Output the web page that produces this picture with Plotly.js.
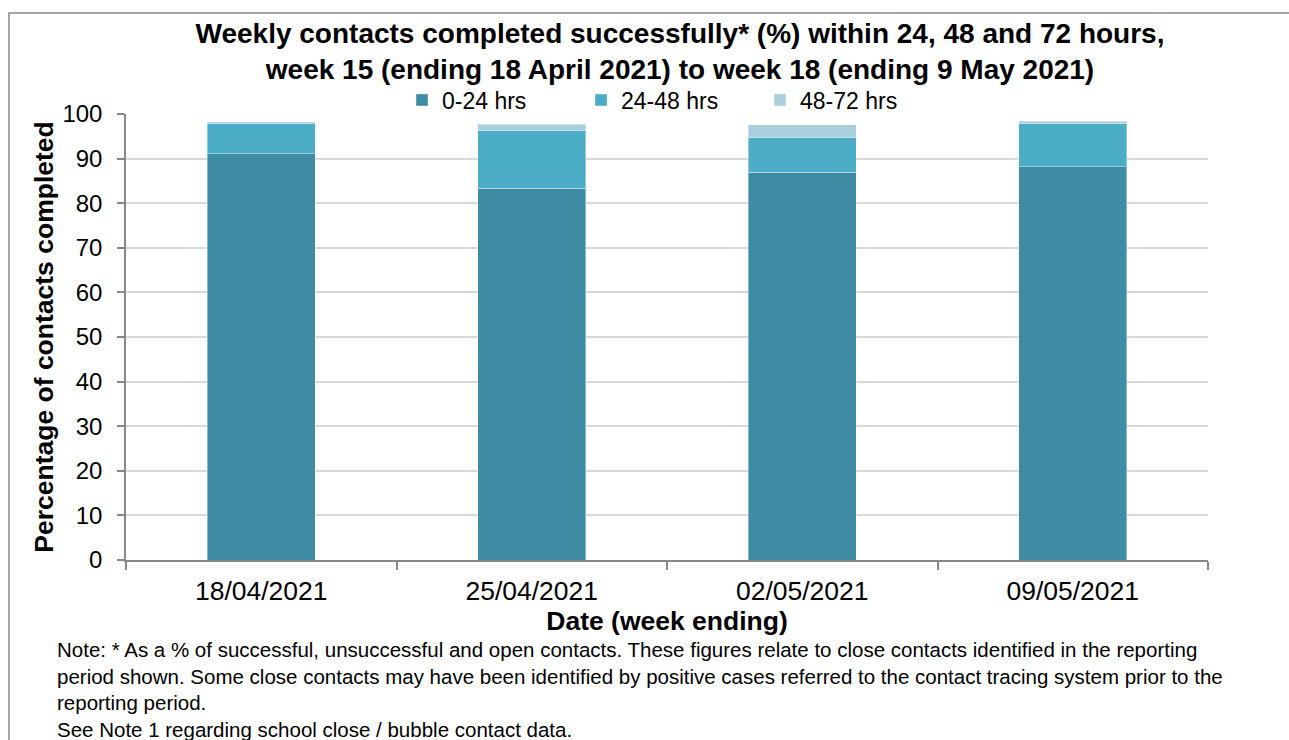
<!DOCTYPE html>
<html>
<head>
<meta charset="utf-8">
<script src="https://cdn.plot.ly/plotly-3.0.1.min.js"></script>
<style>html,body{margin:0;padding:0;background:#fff;}#chart{width:1289px;height:740px;}</style>
</head>
<body>
<div id="chart"></div>
<script>
const weeks = ["18/04/2021", "25/04/2021", "02/05/2021", "09/05/2021"];
const hrs0to24 = [91.1, 83.4, 86.9, 88.2];
const hrs24to48 = [6.7, 13.0, 7.9, 9.6];
const hrs48to72 = [0.5, 1.3, 2.8, 0.6];
const seriesNames = ["0-24 hrs", "24-48 hrs", "48-72 hrs"];
const yTicks = [0, 10, 20, 30, 40, 50, 60, 70, 80, 90, 100];

const colors = ["#3D8CA3", "#4BACC6", "#A9CEDC"];
const font = "Liberation Sans, Arial, sans-serif";

const data = [hrs0to24, hrs24to48, hrs48to72].map((vals, i) => ({
  type: "bar",
  x: weeks,
  y: vals,
  name: seriesNames[i],
  marker: { color: colors[i], line: { color: "rgba(255,255,255,0.4)", width: 1 } },
  hoverinfo: "x+y+name"
}));

const L = 126, R = 1208, T = 114, B = 560, W = 1289, H = 740;
const pw = R - L, ph = B - T;
const px = v => (v - L) / pw;
const py = v => (B - v) / ph;

const layout = {
  width: W, height: H,
  margin: { l: L, r: W - R, t: T, b: H - B, pad: 0 },
  paper_bgcolor: "#ffffff",
  plot_bgcolor: "#ffffff",
  font: { family: font, color: "#000000", size: 24 },
  barmode: "stack",
  bargap: 0.6,
  showlegend: true,
  title: {
    text: "<b>Weekly contacts completed successfully* (%) within 24, 48 and 72 hours,<br>week 15 (ending 18 April 2021) to week 18 (ending 9 May 2021)</b>",
    font: { family: font, size: 28, color: "#000000" },
    x: px(680), xref: "paper", xanchor: "center",
    y: 1 - 43 / H, yref: "container", yanchor: "middle"
  },
  legend: {
    orientation: "h",
    x: px(402), xanchor: "left",
    y: py(100), yanchor: "middle",
    font: { family: font, size: 23, color: "#000000" },
    itemwidth: 30,
    entrywidth: 134,
    entrywidthmode: "pixels",
    traceorder: "normal",
    bgcolor: "rgba(0,0,0,0)"
  },
  xaxis: {
    type: "category",
    tickson: "boundaries",
    ticks: "outside",
    ticklen: 8,
    tickcolor: "#888888",
    tickwidth: 1.5,
    ticklabelstandoff: 6,
    showline: true,
    linecolor: "#888888",
    linewidth: 1.5,
    showgrid: false,
    tickfont: { family: font, size: 26.5, color: "#000000" },
    title: { text: "<b>Date (week ending)</b>", font: { family: font, size: 26.5, color: "#000000" }, standoff: 2 },
    fixedrange: true
  },
  yaxis: {
    range: [0, 100],
    tickvals: yTicks,
    ticktext: yTicks.map(String),
    ticks: "outside",
    ticklen: 7,
    tickcolor: "#888888",
    tickwidth: 1.5,
    ticklabelstandoff: 10,
    showline: true,
    linecolor: "#888888",
    linewidth: 1.5,
    showgrid: true,
    gridcolor: "#D9D9D9",
    gridwidth: 1.5,
    zeroline: false,
    tickfont: { family: font, size: 24, color: "#000000" },
    title: { text: "<b>Percentage of contacts completed</b>", font: { family: font, size: 26.5, color: "#000000" }, standoff: 1 },
    fixedrange: true
  },
  shapes: [{
    type: "rect", xref: "paper", yref: "paper",
    x0: px(9), x1: px(1300), y0: py(760), y1: py(13),
    line: { color: "#888888", width: 1.5 }, fillcolor: "rgba(0,0,0,0)", layer: "below"
  }],
  annotations: [
    {
      xref: "paper", yref: "paper", x: px(55), y: py(636), xanchor: "left", yanchor: "top",
      align: "left", showarrow: false,
      font: { family: font, size: 20.5, color: "#000000" },
      text: "Note: * As a % of successful, unsuccessful and open contacts. These figures relate to close contacts identified in the reporting<br>period shown. Some close contacts may have been identified by positive cases referred to the contact tracing system prior to the<br>reporting period.<br>See Note 1 regarding school close / bubble contact data."
    }
  ]
};

Plotly.newPlot("chart", data, layout, { displayModeBar: false, staticPlot: false });
</script>
</body>
</html>
